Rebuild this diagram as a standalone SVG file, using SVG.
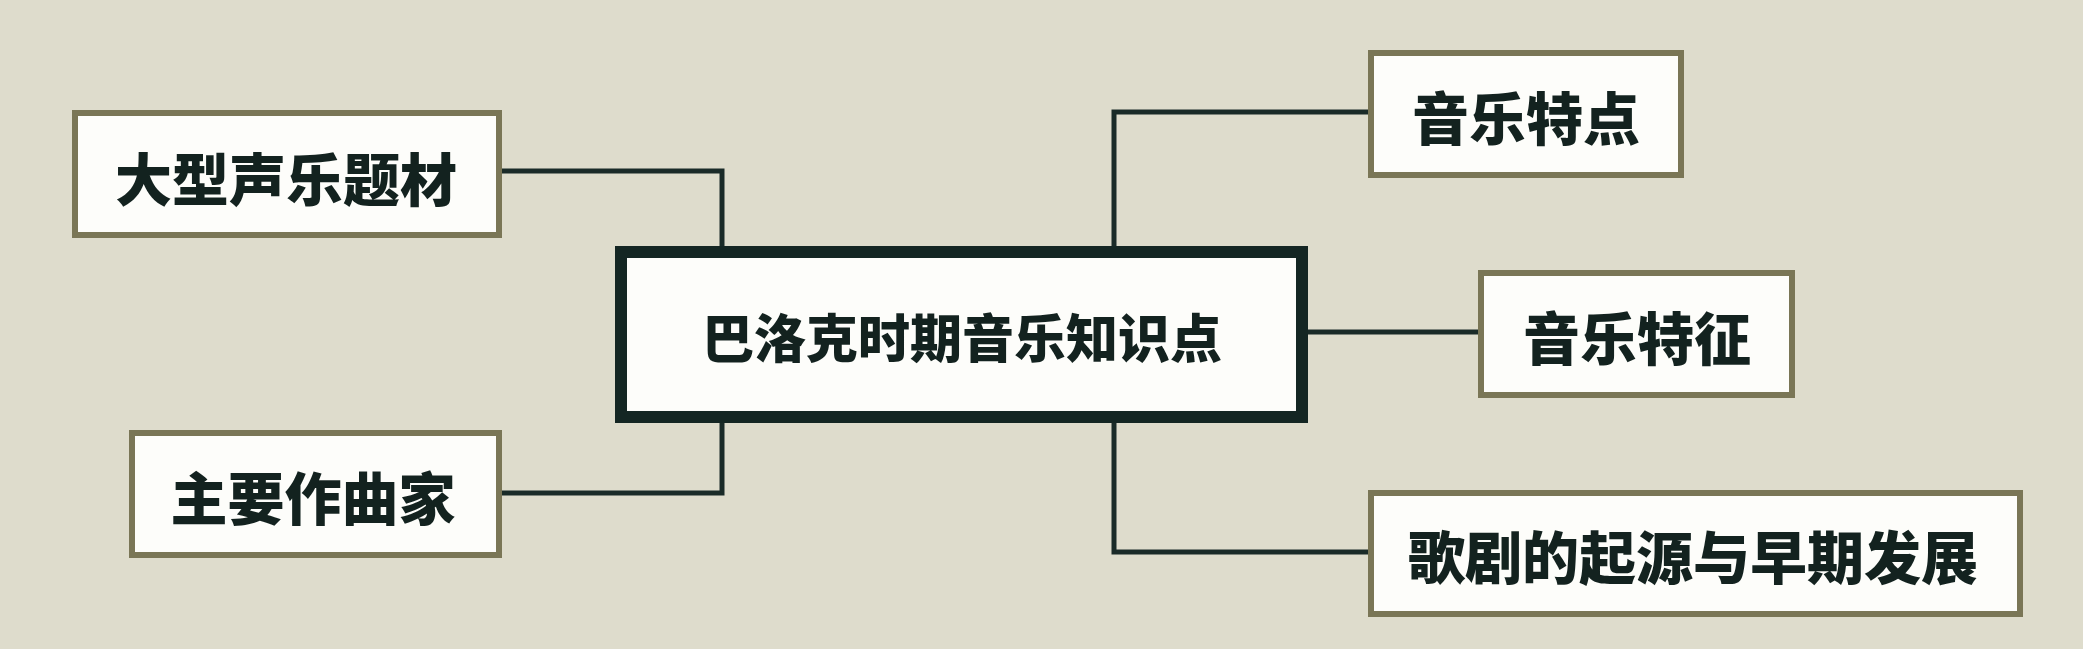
<svg xmlns="http://www.w3.org/2000/svg" width="2083" height="649" viewBox="0 0 2083 649">
<style>
.leaf{fill:#fdfdfa;stroke:#7a7656;stroke-width:6}
.root{fill:#fdfdfa;stroke:#142623;stroke-width:12}
.conn{fill:none;stroke:#1a2b28;stroke-width:5}
.t{font-family:"Noto Sans CJK SC","Noto Sans CJK TC",sans-serif;font-weight:900;fill:#13221f;text-anchor:middle;dominant-baseline:central}
.tl{font-size:57px}
.tr{font-size:52px}
</style>
<rect x="0" y="0" width="2083" height="649" fill="#dedccc"/>
<g id="connectors">
<path class="conn" d="M502,171 H722 V247"/>
<path class="conn" d="M502,493 H722 V422"/>
<path class="conn" d="M1368,112 H1114 V247"/>
<path class="conn" d="M1307,332 H1479"/>
<path class="conn" d="M1368,552 H1114 V422"/>
</g>
<g id="root">
<rect class="root" x="621" y="252" width="681" height="165"/>
<text class="t tr" x="962" y="335">巴洛克时期音乐知识点</text>
</g>
<g id="n1">
<rect class="leaf" x="75" y="113" width="424" height="122"/>
<text class="t tl" x="286" y="176">大型声乐题材</text>
</g>
<g id="n2">
<rect class="leaf" x="132" y="433" width="367" height="122"/>
<text class="t tl" x="313" y="495">主要作曲家</text>
</g>
<g id="n3">
<rect class="leaf" x="1371" y="53" width="310" height="122"/>
<text class="t tl" x="1526" y="115">音乐特点</text>
</g>
<g id="n4">
<rect class="leaf" x="1481" y="273" width="311" height="122"/>
<text class="t tl" x="1637" y="335">音乐特征</text>
</g>
<g id="n5">
<rect class="leaf" x="1371" y="493" width="649" height="121"/>
<text class="t tl" x="1693" y="554">歌剧的起源与早期发展</text>
</g>
</svg>
